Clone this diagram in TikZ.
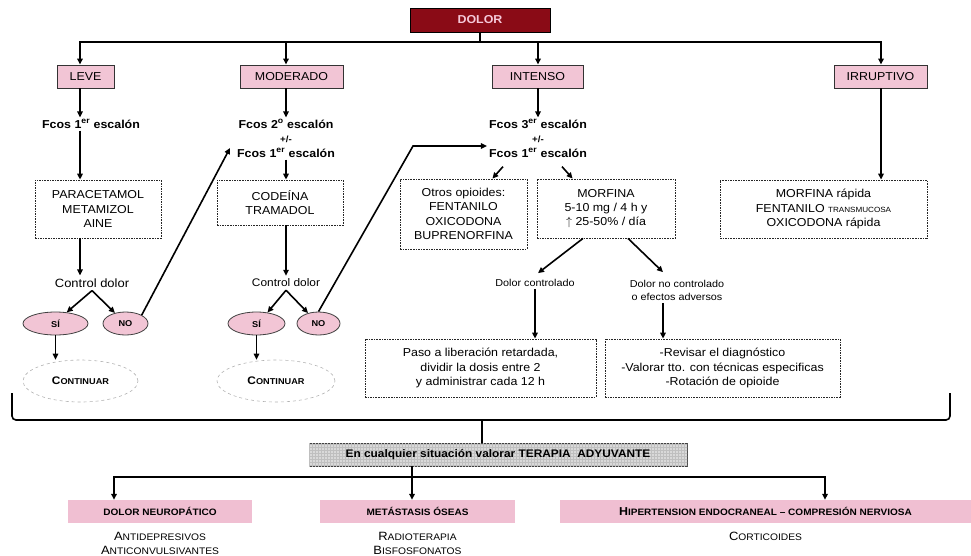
\documentclass[tikz,border=0pt]{standalone}
\usepackage{fontspec}
\setmainfont{Liberation Sans}[FakeStretch=1.08]
\usepackage{tikz}
\usetikzlibrary{arrows.meta,positioning,shapes.geometric,patterns,calc}
\definecolor{dolred}{HTML}{8A0B16}
\definecolor{dolpink}{HTML}{F6C9D9}
\definecolor{sevpink}{HTML}{F2C5D5}
\definecolor{barpink}{HTML}{F0BFD2}
\newcommand{\pcap}[3]{#2{\fontsize{#1}{#1}\selectfont #3}}
\newcommand{\plusmin}{{\fontsize{9}{9}\selectfont +/-}}

\begin{document}
\begin{tikzpicture}[
  x=1pt, y=-1pt,
  font=\fontsize{11.5}{14.3}\selectfont,
  root/.style={draw=black, line width=0.9pt, fill=dolred, text=dolpink,
               font=\fontsize{11.5}{14}\selectfont\bfseries,
               minimum width=140pt, minimum height=24pt, inner sep=0pt},
  sev/.style={draw=black!80, line width=0.9pt, fill=sevpink, minimum height=23pt, inner sep=0pt},
  fcos/.style={align=center, font=\fontsize{11.5}{14.5}\selectfont\bfseries, inner sep=2pt},
  dbox/.style={draw=black!85, line width=0.8pt, dash pattern=on 1.6pt off 1pt,
               align=center, inner sep=0pt},
  ctl/.style={font=\fontsize{12}{14}\selectfont, inner sep=3pt},
  yn/.style={ellipse, draw=black!75, line width=0.8pt, fill=sevpink, minimum height=23pt,
             inner sep=0pt, font=\fontsize{8.5}{9}\selectfont\bfseries},
  cont/.style={ellipse, draw=black!30, dashed, line width=0.6pt, minimum height=42pt,
               inner sep=0pt, font=\fontsize{11}{12}\selectfont\bfseries},
  note/.style={align=center, inner sep=2pt, font=\fontsize{10}{13}\selectfont},
  adjbox/.style={draw=black!75, line width=0.9pt, fill=black!15,
                 postaction={pattern=grid, pattern color=black!25},
                 minimum height=23pt, inner sep=0pt, font=\fontsize{11}{12}\selectfont\bfseries},
  bar/.style={fill=barpink, minimum height=23pt, inner sep=0pt,
              font=\fontsize{9.3}{11}\selectfont\bfseries},
  sub/.style={align=center, inner sep=0pt, font=\fontsize{12}{14}\selectfont},
  conn/.style={line width=1.6pt, black, line cap=rect},
  arr/.style={-{Triangle[length=6pt,width=5.5pt]}, line width=1.6pt, black},
]
\useasboundingbox (0,0) rectangle (971,555);

\node[root] (dolor) at (480,20) {DOLOR};
\node[sev, minimum width=57pt] (leve) at (85.5,76.5) {LEVE};
\node[sev, minimum width=103pt] (moder) at (291.5,76.5) {MODERADO};
\node[sev, minimum width=91pt] (inten) at (537.5,76.5) {INTENSO};
\node[sev, minimum width=93pt] (irrup) at (880.5,76.5) {IRRUPTIVO};

\node[fcos] (fl) at (91,124) {Fcos 1\textsuperscript{er} escalón};
\node[fcos] (fm) at (286,138.5) {Fcos 2\textsuperscript{o} escalón\\\plusmin\\Fcos 1\textsuperscript{er} escalón};
\node[fcos] (fi) at (538,138.5) {Fcos 3\textsuperscript{er} escalón\\\plusmin\\Fcos 1\textsuperscript{er} escalón};

\node[dbox, minimum width=126pt, minimum height=58pt] (para) at (98,209) {PARACETAMOL\\METAMIZOL\\AINE};
\node[ctl] (cdl) at (92,283) {Control dolor};
\node[yn, minimum width=65pt] (sil) at (55.5,323.5) {SÍ};
\node[yn, minimum width=45pt] (nol) at (125.5,323.5) {NO};
\node[cont, minimum width=115pt] (contl) at (80.5,381) {\pcap{8.5}{C}{ONTINUAR}};

\node[dbox, minimum width=126pt, minimum height=45pt] (code) at (280,202.5) {CODEÍNA\\TRAMADOL};
\node[ctl, font=\fontsize{11}{13}\selectfont] (cdm) at (286,283) {Control dolor};
\node[yn, minimum width=57pt] (sim) at (256.5,323.5) {SÍ};
\node[yn, minimum width=43pt] (nom) at (318.5,323.5) {NO};
\node[cont, minimum width=118pt] (contm) at (276,381) {\pcap{8.5}{C}{ONTINUAR}};

\node[dbox, minimum width=127pt, minimum height=70pt] (otros) at (463.5,214) {Otros opioides:\\FENTANILO\\OXICODONA\\BUPRENORFINA};
\node[dbox, minimum width=138pt, minimum height=59pt] (morf) at (606,208.5) {MORFINA\\5-10 mg / 4 h y\\$\uparrow$\ 25-50\% / día};
\node[note] (dc) at (535,283) {Dolor controlado};
\node[note] (dnc) at (677,290.5) {Dolor no controlado\\o efectos adversos};
\node[dbox, minimum width=231pt, minimum height=58pt] (paso) at (480.5,368) {Paso a liberación retardada,\\dividir la dosis entre 2\\y administrar cada 12 h};
\node[dbox, minimum width=235pt, minimum height=58pt] (rev) at (722.5,368) {-Revisar el diagnóstico\\-Valorar tto. con técnicas especificas\\-Rotación de opioide};

\node[dbox, minimum width=207pt, minimum height=58pt] (irb) at (823.5,209) {MORFINA rápida\\FENTANILO {\fontsize{7.5}{8}\selectfont TRANSMUCOSA}\\OXICODONA rápida};

\node[adjbox, minimum width=378pt] (adj) at (498,454.5) {En cualquier situación valorar TERAPIA\ \ ADYUVANTE};
\node[bar, minimum width=184pt] (neu) at (160,511.5) {DOLOR NEUROPÁTICO};
\node[bar, minimum width=195pt] (meta) at (417.5,511.5) {METÁSTASIS ÓSEAS};
\node[bar, minimum width=411pt, font=\fontsize{11.5}{12}\selectfont\bfseries] (hip) at (765.5,511.5) {\pcap{9.3}{H}{IPERTENSION ENDOCRANEAL -- COMPRESIÓN NERVIOSA}};
\node[sub, below=8.5pt of neu] (neut) {\pcap{9.5}{A}{NTIDEPRESIVOS}\\\pcap{9.5}{A}{NTICONVULSIVANTES}};
\node[sub, below=8.5pt of meta] (metat) {\pcap{9.5}{R}{ADIOTERAPIA}\\\pcap{9.5}{B}{ISFOSFONATOS}};
\node[sub, below=8.5pt of hip] (hipt) {\pcap{9.5}{C}{ORTICOIDES}};

\coordinate (jlev) at (80,42);
\coordinate (jmod) at (286,42);
\coordinate (jint) at (538,42);
\coordinate (jirr) at (881,42);
\draw[conn] (dolor.south) -- (dolor.south |- jlev);
\draw[conn] (jlev) -- (jirr);
\foreach \j/\b in {jlev/leve, jmod/moder, jint/inten, jirr/irrup}
  \draw[arr] (\j) -- (\j |- \b.north);

\draw[arr] (jlev |- leve.south) -- (jlev |- fl.north);
\draw[arr] (jlev |- fl.south) -- (jlev |- para.north);
\draw[arr] (jlev |- para.south) -- (jlev |- cdl.north);
\draw[arr] (cdl.south) -- (sil.45);
\draw[arr] (cdl.south) -- (nol.135);
\draw[arr] (sil.south) -- (sil.south |- contl.north);
\coordinate (mtip) at (230,148);
\draw[arr] (nol.north east) -- (mtip);

\draw[arr] (jmod |- moder.south) -- (jmod |- fm.north);
\draw[arr] (jmod |- fm.south) -- (jmod |- code.north);
\draw[arr] (jmod |- code.south) -- (jmod |- cdm.north);
\draw[arr] (cdm.south) -- (sim.45);
\draw[arr] (cdm.south) -- (nom.135);
\draw[arr] (sim.south) -- (sim.south |- contm.north);
\coordinate (ibend) at (413,146);
\draw[arr] (nom.north) -- (ibend) -- (ibend -| fi.west);

\draw[arr] (jint |- inten.south) -- (jint |- fi.north);
\draw[arr] ($(fi.south)+(-35,7)$) -- ($(otros.north east)+(-35,0)$);
\draw[arr] ($(fi.south)+(24,7)$) -- ($(morf.north west)+(36,0)$);
\draw[arr] ($(morf.south)+(-23,0)$) -- ($(dc.north)+(3,-4)$);
\draw[arr] ($(morf.south)+(22,0)$) -- ($(dnc.north)+(-14,-6)$);
\draw[arr] (dc.south) -- (dc.south |- paso.north);
\coordinate (dncs) at ($(dnc.south)+(-14,0)$);
\draw[arr] (dncs) -- (dncs |- rev.north);

\draw[arr] (jirr |- irrup.south) -- (jirr |- irb.north);

\coordinate (bkl) at (12,394);
\coordinate (bkr) at (950,394);
\coordinate (bkm) at (482,420);
\draw[conn, rounded corners=4pt] (bkl) |- (bkm) -| (bkr);
\draw[conn] (bkm) -- (bkm |- adj.north);
\coordinate (jneu) at (114,477);
\coordinate (jmet) at (412,477);
\coordinate (jhip) at (825,477);
\draw[conn] (jmet |- adj.south) -- (jmet);
\draw[conn] (jneu) -- (jhip);
\foreach \j/\b in {jneu/neu, jmet/meta, jhip/hip}
  \draw[arr] (\j) -- (\j |- \b.north);
\end{tikzpicture}
\end{document}
